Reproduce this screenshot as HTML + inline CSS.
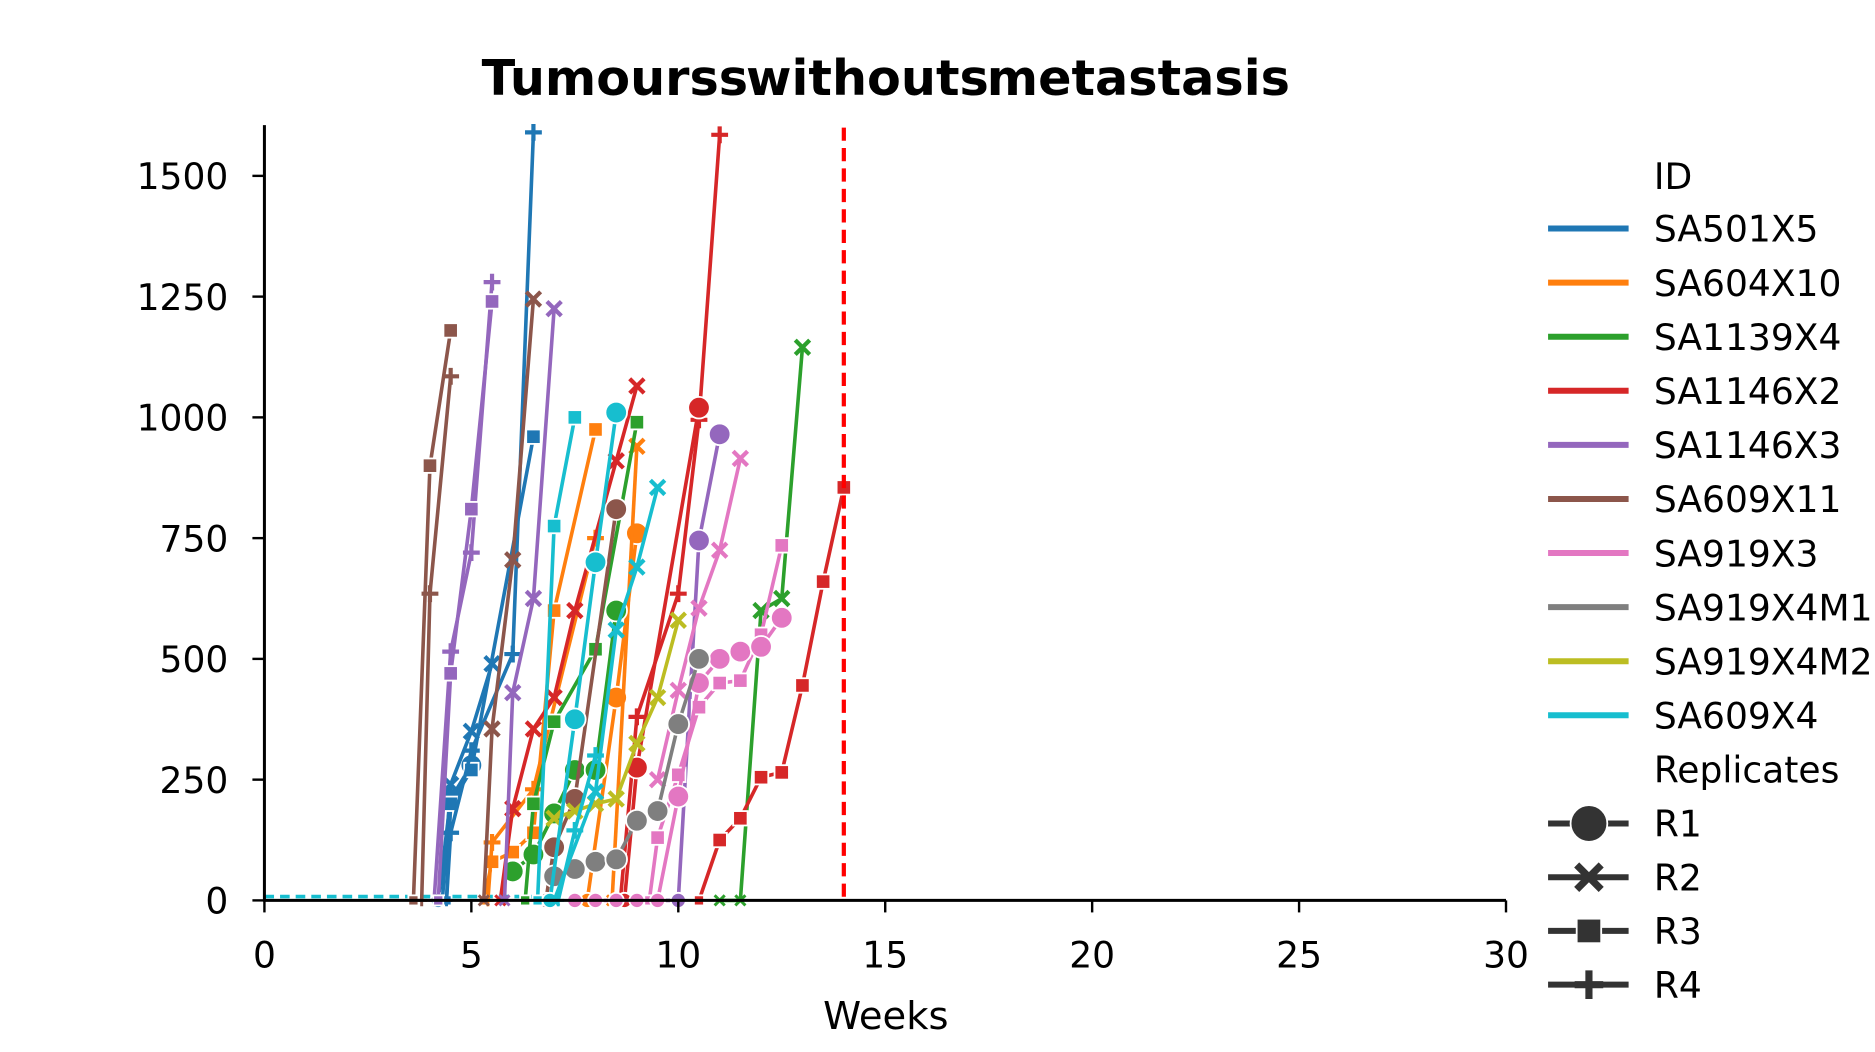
<!DOCTYPE html>
<html><head><meta charset="utf-8"><style>
html,body{margin:0;padding:0;background:#fff;}
svg{display:block;font-family:"DejaVu Sans","Liberation Sans",sans-serif;}
</style></head><body>
<svg id="chart" width="1875" height="1052" viewBox="0 0 1560 875" xmlns="http://www.w3.org/2000/svg">
<text x="737" y="79" text-anchor="middle" font-size="41" font-weight="bold" word-spacing="-16">Tumourss withouts metastasis</text>
<g id="plot"></g>
<g id="axes"></g>
<g id="legend"></g>
</svg>
<script>
const xTicks=[0,5,10,15,20,25,30];
const yTicks=[0,250,500,750,1000,1250,1500];
const ids=["SA501X5","SA604X10","SA1139X4","SA1146X2","SA1146X3","SA609X11","SA919X3","SA919X4M1","SA919X4M2","SA609X4"];
const colors=["#1f77b4","#ff7f0e","#2ca02c","#d62728","#9467bd","#8c564b","#e377c2","#7f7f7f","#bcbd22","#17becf"];
const reps=["R1","R2","R3","R4"];
// series: [idIndex, replicate, weeks, volumes]
const series=[
[0,"R1",[4.2,4.5,5],[0,210,280]],
[0,"R2",[4.3,4.5,5,5.5],[0,240,350,490]],
[0,"R3",[4.4,4.5,5,6.5],[0,200,270,960]],
[0,"R4",[4.4,4.5,5,6,6.5],[0,140,310,510,1590]],
[1,"R3",[5.3,5.5,6,6.5,7,8],[0,80,100,140,600,975]],
[1,"R4",[5.4,5.5,6.5,8],[0,120,230,750]],
[1,"R1",[7.8,8.5,9],[0,420,760]],
[1,"R2",[8.4,9],[0,940]],
[2,"R1",[6,6.5,7,7.5,8,8.5],[60,95,180,270,270,600]],
[2,"R3",[6.3,6.5,7,8,9],[0,200,370,520,990]],
[2,"R2",[11,11.5,12,12.5,13],[0,0,600,625,1145]],
[3,"R2",[5.7,6,6.5,7,7.5,8.5,9],[0,190,355,420,600,910,1065]],
[3,"R4",[8.6,9,10,10.5,11],[0,380,635,995,1585]],
[3,"R1",[8.7,9,10.5],[0,275,1020]],
[3,"R3",[10.5,11,11.5,12,12.5,13,13.5,14],[0,125,170,255,265,445,660,855]],
[4,"R4",[4.1,4.5,5,5.5],[0,515,720,1280]],
[4,"R3",[4.2,4.5,5,5.5],[0,470,810,1240]],
[4,"R2",[5.8,6,6.5,7],[0,430,625,1225]],
[4,"R1",[9.5,10,10.5,11],[0,0,745,965]],
[5,"R3",[3.6,4,4.5],[0,900,1180]],
[5,"R4",[3.8,4,4.5],[0,635,1085]],
[5,"R2",[5.3,5.5,6,6.5],[0,355,705,1245]],
[5,"R1",[6.8,7,7.5,8.5],[0,110,210,810]],
[6,"R2",[9.5,10,10.5,11,11.5],[250,435,605,725,915]],
[6,"R3",[9.3,9.5,10,10.5,11,11.5,12,12.5],[0,130,260,400,450,455,550,735]],
[6,"R1",[7.5,8,8.5,9,9.5,10,10.5,11,11.5,12,12.5],[0,0,0,0,0,215,450,500,515,525,585]],
[7,"R1",[7,7.5,8,8.5,9,9.5,10,10.5],[50,65,80,85,165,185,365,500]],
[8,"R2",[7,7.5,8,8.5,9,9.5,10],[170,185,200,210,325,420,580]],
[9,"R3",[6.6,7,7.5],[0,775,1000]],
[9,"R1",[6.9,7.5,8,8.5],[0,375,700,1010]],
[9,"R4",[7.1,7.5,8],[0,145,300]],
[9,"R2",[7,8,8.5,9,9.5],[0,225,560,690,855]]
];
const X0=220,X1=1253,Y0=749,YTOP=106;
const xs=v=>X0+(v/30)*(X1-X0);
const ys=v=>Y0-(v/1600)*(Y0-YTOP);
const NS="http://www.w3.org/2000/svg";
function mk(tag,attrs,parent){const e=document.createElementNS(NS,tag);for(const k in attrs)e.setAttribute(k,attrs[k]);parent.appendChild(e);return e;}
function marker(g,type,x,y,c,s){
  let e;
  if(type==="R1"){e=mk("circle",{cx:x,cy:y,r:9*s,fill:c,stroke:"#fff","stroke-width":1.5},g);}
  else if(type==="R3"){e=mk("rect",{x:x-6*s,y:y-6*s,width:12*s,height:12*s,fill:c,stroke:"#fff","stroke-width":1.5},g);}
  else if(type==="R2"){const d=6*s;e=mk("path",{d:`M${x-d},${y-d}L${x+d},${y+d}M${x-d},${y+d}L${x+d},${y-d}`,stroke:c,"stroke-width":3.5*s,fill:"none"},g);}
  else {const d=7*s;e=mk("path",{d:`M${x-d},${y}L${x+d},${y}M${x},${y-d}L${x},${y+d}`,stroke:c,"stroke-width":3.5*s,fill:"none"},g);}
  return e;
}
const plot=document.getElementById("plot");
const base=mk("line",{x1:xs(0),y1:ys(8),x2:xs(7),y2:ys(8),stroke:"#17becf","stroke-width":3,"stroke-dasharray":"8,5"},plot);


series.forEach(s=>{
  const [ci,rep,wk,vol]=s;const c=colors[ci];
  const g=mk("g",{},plot);
  
  
  const pts=wk.map((w,i)=>xs(w)+","+ys(vol[i])).join(" ");
  mk("polyline",{points:pts,fill:"none",stroke:c,"stroke-width":3,"stroke-linejoin":"round"},g);
  wk.forEach((w,i)=>{const m=marker(g,rep,xs(w),ys(vol[i]),c,vol[i]===0?0.7:1);
    
    });
});
const th=mk("line",{x1:xs(14),y1:ys(1600),x2:xs(14),y2:Y0,stroke:"#ff0000","stroke-width":3.5,"stroke-dasharray":"11,6"},plot);


const ax=document.getElementById("axes");
mk("line",{x1:X0,y1:YTOP-2,x2:X0,y2:Y0+1,stroke:"#000","stroke-width":2.5},ax);
mk("line",{x1:X0-1,y1:Y0,x2:X1,y2:Y0,stroke:"#000","stroke-width":2.5},ax);
xTicks.forEach(t=>{mk("line",{x1:xs(t),y1:Y0,x2:xs(t),y2:Y0+10,stroke:"#000","stroke-width":2},ax);
  const tx=mk("text",{x:xs(t),y:Y0+56,"text-anchor":"middle","font-size":30},ax);tx.textContent=t;
  
  });
yTicks.forEach(t=>{mk("line",{x1:X0-10,y1:ys(t),x2:X0,y2:ys(t),stroke:"#000","stroke-width":2},ax);
  const tx=mk("text",{x:X0-30,y:ys(t)+11,"text-anchor":"end","font-size":30},ax);tx.textContent=t;
  
  });
const xl=mk("text",{x:737,y:856,"text-anchor":"middle","font-size":32},ax);xl.textContent="Weeks";


const lg=document.getElementById("legend");
function ltext(t,y){const e=mk("text",{x:1376,y:y+11,"font-size":30},lg);e.textContent=t;return e;}
const h1=ltext("ID",146);
ids.forEach((id,i)=>{const y=190+i*45;
  const g=mk("g",{},lg);
  
  
  mk("line",{x1:1288,y1:y,x2:1355,y2:y,stroke:colors[i],"stroke-width":5},g);
  const t=mk("text",{x:1376,y:y+11,"font-size":30},g);t.textContent=id;});
const h2=ltext("Replicates",640);
reps.forEach((r,i)=>{const y=685+i*44.7;
  const g=mk("g",{},lg);
  
  
  mk("line",{x1:1288,y1:y,x2:1355,y2:y,stroke:"#333","stroke-width":5},g);
  marker(g,r,1322,y,"#333",1.7);
  const t=mk("text",{x:1376,y:y+11,"font-size":30},g);t.textContent=r;});
</script>
</body></html>
